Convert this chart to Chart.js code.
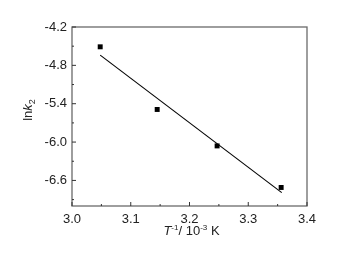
<!DOCTYPE html>
<html><head><meta charset="utf-8">
<script src="https://cdn.jsdelivr.net/npm/chart.js@4"></script>
<style>html,body{margin:0;padding:0;background:#fff}#wrap{width:350px;height:255px;position:relative}</style>
</head><body><div id="wrap"><canvas id="c" width="350" height="255"></canvas></div>
<script>
const invT = [3.048, 3.145, 3.247, 3.356];
const lnk2 = [-4.51, -5.49, -6.06, -6.71];
const fitX = [3.048, 3.357];
const fitY = [-4.64, -6.79];
const xTicks = [3.0, 3.1, 3.2, 3.3, 3.4];
const yTicks = [-4.2, -4.8, -5.4, -6.0, -6.6];

const FONT = '"Liberation Sans", Arial, sans-serif';
const frame = {
  id: 'frame',
  afterDraw(chart) {
    const {ctx, chartArea: a, scales: {x, y}} = chart;
    ctx.save();
    ctx.strokeStyle = '#6a6a6a';
    ctx.lineWidth = 1.3;
    ctx.strokeRect(a.left, a.top, a.right - a.left, a.bottom - a.top);
    ctx.strokeStyle = '#333';
    ctx.lineWidth = 1;
    for (let i = 0; i < xTicks.length; i++) {
      const px = x.getPixelForValue(xTicks[i]);
      ctx.beginPath(); ctx.moveTo(px, a.bottom); ctx.lineTo(px, a.bottom - 4); ctx.stroke();
      if (i < xTicks.length - 1) {
        const m = x.getPixelForValue((xTicks[i] + xTicks[i + 1]) / 2);
        ctx.beginPath(); ctx.moveTo(m, a.bottom); ctx.lineTo(m, a.bottom - 2); ctx.stroke();
      }
    }
    for (let i = 0; i < yTicks.length; i++) {
      const py = y.getPixelForValue(yTicks[i]);
      ctx.beginPath(); ctx.moveTo(a.left, py); ctx.lineTo(a.left + 4, py); ctx.stroke();
      const m = y.getPixelForValue(yTicks[i] - 0.3);
      ctx.beginPath(); ctx.moveTo(a.left, m); ctx.lineTo(a.left + 2, m); ctx.stroke();
    }
    ctx.fillStyle = '#222';
    ctx.textBaseline = 'alphabetic';
    const parts = [
      {t: 'T', f: 'italic 13px ' + FONT, dy: 0},
      {t: '-1', f: '8px ' + FONT, dy: -5},
      {t: '/ 10', f: '13px ' + FONT, dy: 0},
      {t: '-3', f: '8px ' + FONT, dy: -5},
      {t: ' K', f: '13px ' + FONT, dy: 0}
    ];
    let w = 0;
    parts.forEach(p => { ctx.font = p.f; p.w = ctx.measureText(p.t).width; w += p.w; });
    let cx = (a.left + a.right) / 2 + 2 - w / 2;
    const by = 235;
    parts.forEach(p => { ctx.font = p.f; ctx.fillText(p.t, cx, by + p.dy); cx += p.w; });
    ctx.save();
    ctx.translate(32, 110);
    ctx.rotate(-Math.PI / 2);
    const yp = [
      {t: 'ln', f: '13px ' + FONT, dy: 0},
      {t: 'k', f: 'italic 13px ' + FONT, dy: 0},
      {t: '2', f: '9px ' + FONT, dy: 3}
    ];
    let yw = 0;
    yp.forEach(p => { ctx.font = p.f; p.w = ctx.measureText(p.t).width; yw += p.w; });
    let sx = -yw / 2;
    yp.forEach(p => { ctx.font = p.f; ctx.fillText(p.t, sx, p.dy); sx += p.w; });
    ctx.restore();
    ctx.restore();
  }
};

new Chart(document.getElementById('c'), {
  type: 'scatter',
  data: {
    datasets: [
      {
        data: invT.map((v, i) => ({x: v, y: lnk2[i]})),
        pointStyle: 'rect', pointRadius: 3.5, pointHoverRadius: 3.5,
        backgroundColor: '#000', borderColor: '#000', borderWidth: 0, showLine: false
      },
      {
        data: fitX.map((v, i) => ({x: v, y: fitY[i]})),
        showLine: true, pointRadius: 0, borderColor: '#000', borderWidth: 1.1, fill: false
      }
    ]
  },
  plugins: [frame],
  options: {
    responsive: false, animation: false, devicePixelRatio: 1,
    layout: {padding: {left: 0, top: 27, right: 43, bottom: 0}},
    plugins: {legend: {display: false}, tooltip: {enabled: false}},
    scales: {
      x: {
        type: 'linear', min: 3.0, max: 3.4,
        afterFit(s) { s.height = 49; },
        afterBuildTicks(s) { s.ticks = xTicks.map(v => ({value: v})); },
        grid: {display: false, drawTicks: false},
        border: {display: false},
        ticks: {padding: 6, color: '#222', font: {family: FONT, size: 13}, callback: v => v.toFixed(1)}
      },
      y: {
        type: 'linear', min: -7.0, max: -4.2,
        afterFit(s) { s.width = 72; },
        afterBuildTicks(s) { s.ticks = yTicks.map(v => ({value: v})); },
        grid: {display: false, drawTicks: false},
        border: {display: false},
        ticks: {padding: 5, color: '#222', font: {family: FONT, size: 13}, callback: v => v.toFixed(1)}
      }
    }
  }
});
</script></body></html>
